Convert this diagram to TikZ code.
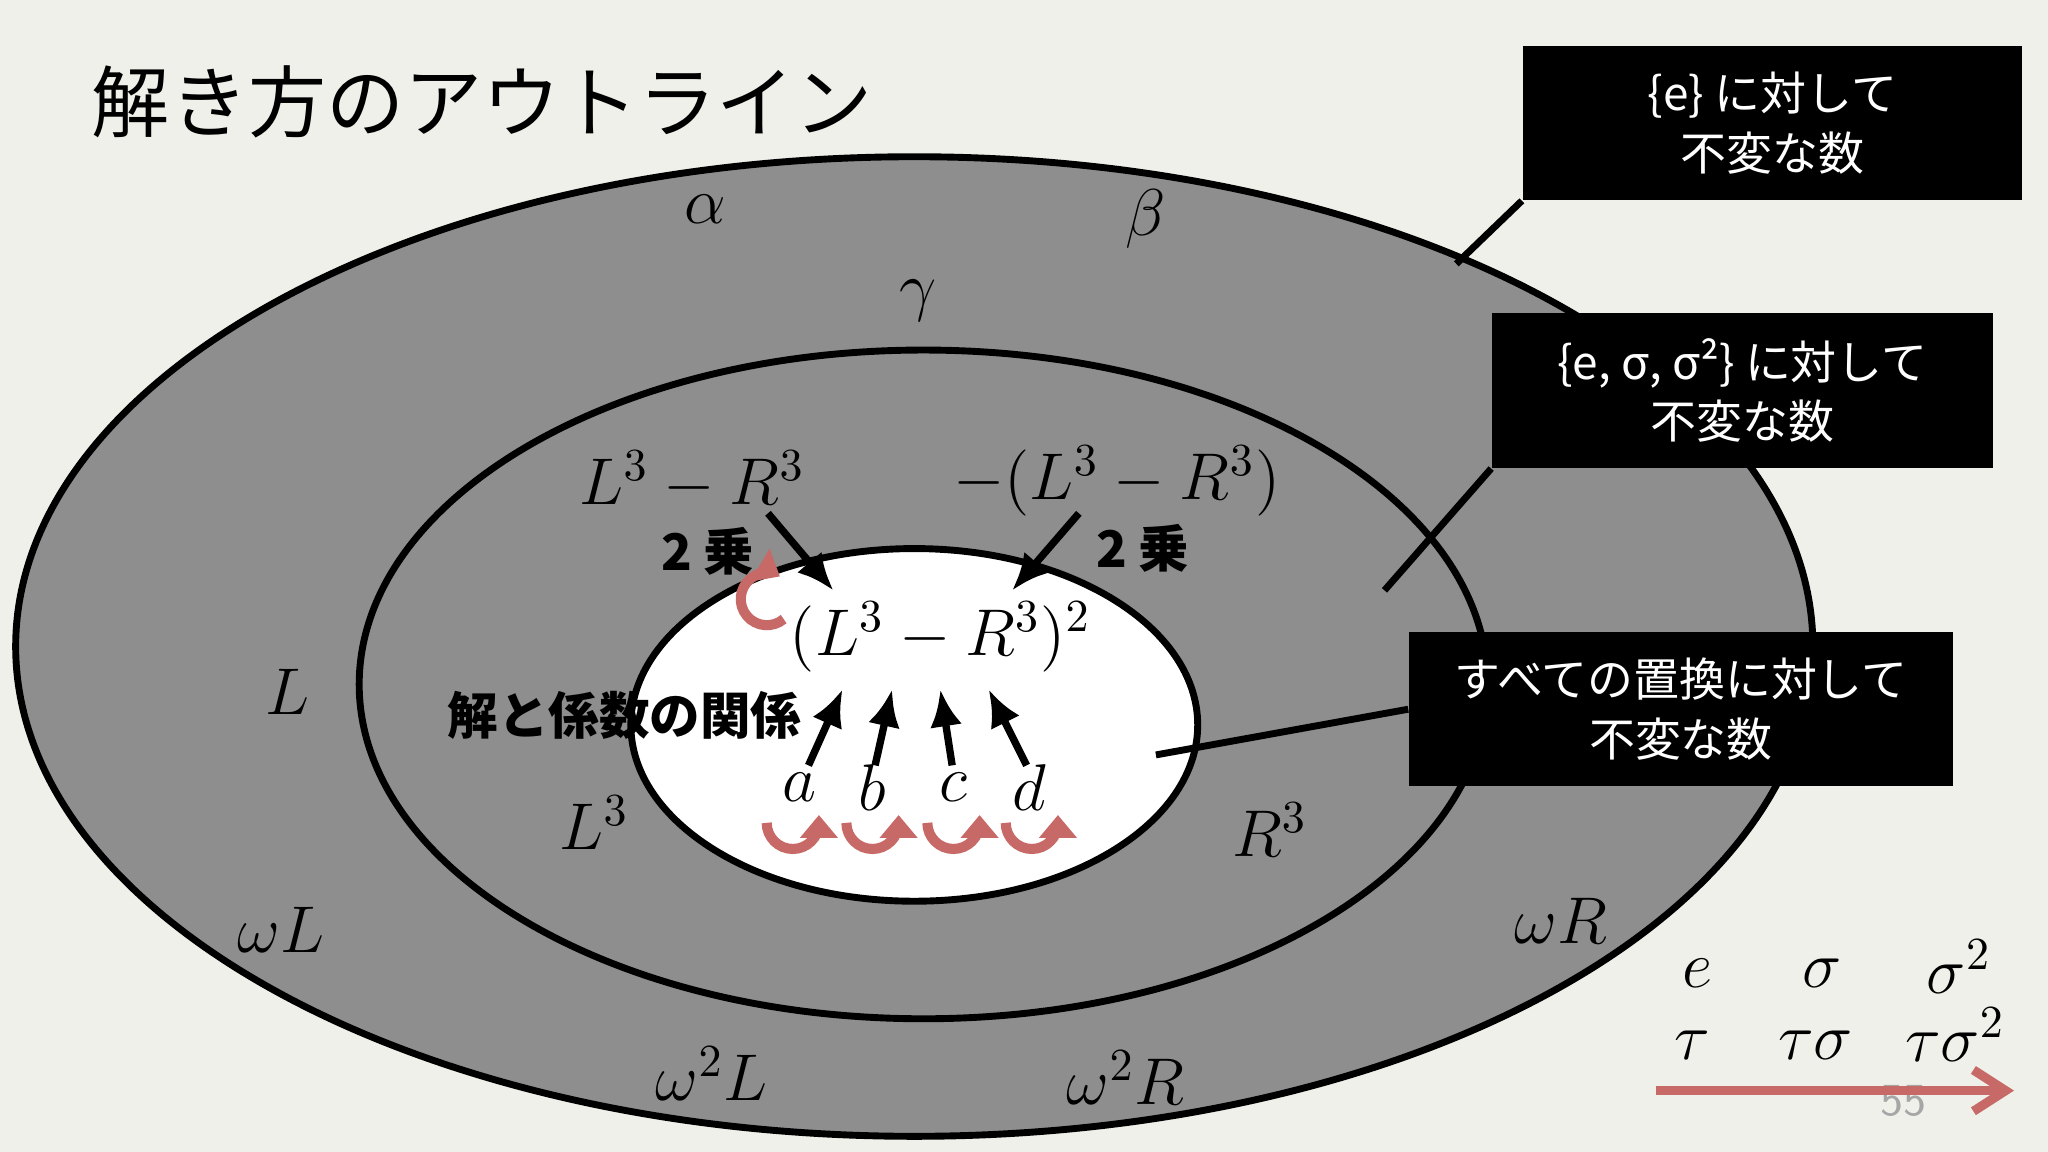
\documentclass[tikz,border=0pt]{standalone}
\usepackage{fontspec}
\newfontfamily\cjk{Noto Sans CJK JP}
\usetikzlibrary{arrows.meta}
\definecolor{bg}{HTML}{F0F0EA}
\definecolor{gr}{HTML}{8E8E8F}
\definecolor{rd}{HTML}{C76A67}
\tikzset{
 mlab/.style={font=\fontsize{14}{17}\selectfont},
 boxn/.style={fill=black,text=white,font=\cjk\fontsize{10}{13}\selectfont,align=center,inner sep=0pt,minimum height=1.18cm},
 bk/.style={-{Latex[length=8pt,width=7pt]},line width=1.6pt},
 rl/.style={rd,line width=2.2pt,-{Triangle[length=5pt,width=8pt]}},
}
\begin{document}
\begin{tikzpicture}[x=0.01cm,y=-0.01cm]
\fill[bg] (0,0) rectangle (1568,882);
\useasboundingbox (0,0) rectangle (1568,882);
\draw[fill=gr,line width=1.5pt] (700,495) ellipse [x radius=688,y radius=375];
\draw[fill=gr,line width=1.5pt] (707,524) ellipse [x radius=432,y radius=256];
\draw[fill=white,line width=1.5pt] (700,555) ellipse [x radius=217,y radius=135];
\node[anchor=west,font=\cjk\fontsize{17}{20}\selectfont] (title) at (58,78) {解き方のアウトライン};
% boxes
\node[boxn,minimum width=3.82cm] (b1) at (1357,94) {\{e\} に対して\\不変な数};
\node[boxn,minimum width=3.83cm] (b2) at (1334,299) {\{e, σ, σ²\} に対して\\不変な数};
\node[boxn,minimum width=4.16cm] (b3) at (1287,543) {すべての置換に対して\\不変な数};
\coordinate (p1) at (1115,202); \coordinate (p2) at (1060,452); \coordinate (p3) at (885,578);
\draw[line width=1.5pt] (p1) -- (b1.south west);
\draw[line width=1.5pt] (p2) -- (b2.south west);
\draw[line width=1.5pt] (p3) -- (b3.west);
% labels
\node[mlab] (al) at (540,160) {$\alpha$};
\node[mlab] (be) at (877,168) {$\beta$};
\node[mlab] (ga) at (703,230) {$\gamma$};
\node[mlab] (L) at (220,530) {$L$};
\node[mlab] (wL) at (215,712) {$\omega L$};
\node[mlab] (w2L) at (545,822) {$\omega^2L$};
\node[mlab] (w2R) at (862,825) {$\omega^2R$};
\node[mlab] (wR) at (1195,705) {$\omega R$};
\node[mlab] (L3) at (455,630) {$L^3$};
\node[mlab] (R3) at (972,635) {$R^3$};
\node[mlab] (d1) at (530,368) {$L^3-R^3$};
\node[mlab] (d2) at (855,368) {$-(L^3-R^3)$};
\node[mlab] (sq) at (720,488) {$(L^3-R^3)^2$};
\node[mlab] (a) at (612,603) {$a$};
\node[mlab] (b) at (668,603) {$b$};
\node[mlab] (c) at (730,603) {$c$};
\node[mlab] (d) at (788,603) {$d$};
\node[font=\cjk\bfseries\fontsize{11}{14}\selectfont] (k1) at (542,422) {2 乗};
\node[font=\cjk\bfseries\fontsize{11}{14}\selectfont] (k2) at (875,420) {2 乗};
\node[font=\cjk\bfseries\fontsize{11}{14}\selectfont] (rel) at (478,548) {解と係数の関係};
\coordinate (s1) at (588,393); \coordinate (t1) at (638,452);
\coordinate (s2) at (826,393); \coordinate (t2) at (775,452);
\draw[bk] (s1) -- (t1);
\draw[bk] (s2) -- (t2);
\draw[bk] (619,586) -- (645,528);
\draw[bk] (670,586) -- (683,528);
\draw[bk] (729,586) -- (720,528);
\draw[bk] (786,586) -- (757,528);
% red loops
\draw[rl] (600,474) arc[start angle=50,end angle=300,radius=20];
\foreach \x in {607,668,730,790}{
 \draw[rl] (\x-20,630) arc[start angle=180,end angle=0,radius=20] -- ++(0,-6);
}
% bottom right
\node[mlab] (e) at (1300,745) {$e$};
\node[mlab] (s) at (1395,745) {$\sigma$};
\node[mlab] (s2n) at (1500,740) {$\sigma^2$};
\node[mlab] (t) at (1296,800) {$\tau$};
\node[mlab] (ts) at (1390,800) {$\tau\sigma$};
\node[mlab] (ts2) at (1497,792) {$\tau\sigma^2$};
\coordinate (r1) at (1268,835); \coordinate (r2) at (1542,835);
\node[text=gray!70,font=\sffamily\fontsize{10}{12}\selectfont] (pg) at (1457,843) {55};
\draw[rd,line width=2pt,-{Straight Barb[length=7pt,width=9pt]}] (r1) -- (r2);
\end{tikzpicture}
\end{document}
